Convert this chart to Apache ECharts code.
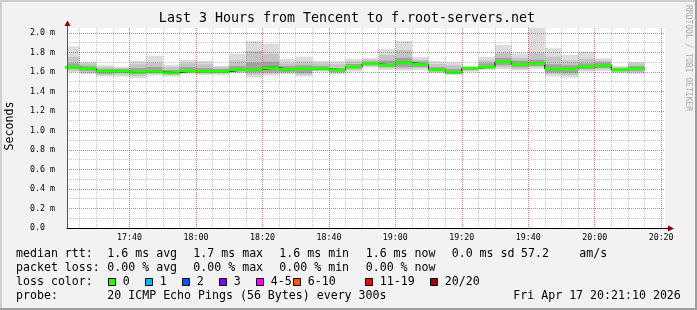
<!DOCTYPE html>
<html><head><meta charset="utf-8">
<script src="https://cdn.jsdelivr.net/npm/echarts@6/dist/echarts.min.js"></script>
<style>html,body{margin:0;padding:0;background:#f2f2f2}#c{width:697px;height:310px}</style>
</head><body><div id="c"></div><script>
// ---- data ----
const viewStart = '17:21:10';
const viewEnd = '20:21:10';
const binStart = ['17:20','17:25','17:30','17:35','17:40','17:45','17:50','17:55',
  '18:00','18:05','18:10','18:15','18:20','18:25','18:30','18:35','18:40','18:45','18:50','18:55',
  '19:00','19:05','19:10','19:15','19:20','19:25','19:30','19:35','19:40','19:45','19:50','19:55',
  '20:00','20:05','20:10'];
// median rtt per 5-minute bin, ms
const medianRtt = [1.648,1.634,1.607,1.607,1.600,1.605,1.592,1.611,1.603,1.603,1.622,1.624,1.641,1.624,1.634,1.632,1.620,1.650,1.683,1.672,1.694,1.677,1.622,1.593,1.638,1.651,1.705,1.677,1.687,1.631,1.631,1.652,1.666,1.622,1.634];
// smoke (sorted ping distribution), ms
const pingMin = [1.600,1.576,1.552,1.552,1.535,1.562,1.552,1.576,1.569,1.569,1.587,1.542,1.562,1.576,1.552,1.603,1.576,1.603,1.644,1.620,1.613,1.620,1.587,1.569,1.603,1.620,1.627,1.614,1.630,1.552,1.542,1.603,1.610,1.587,1.579];
const ping10 = [1.610,1.590,1.565,1.570,1.555,1.575,1.565,1.590,1.580,1.580,1.600,1.570,1.580,1.590,1.570,1.610,1.590,1.620,1.655,1.635,1.630,1.635,1.600,1.575,1.610,1.630,1.645,1.630,1.645,1.575,1.565,1.615,1.625,1.600,1.595];
const ping25 = [1.625,1.610,1.580,1.585,1.575,1.590,1.575,1.600,1.590,1.590,1.605,1.595,1.600,1.600,1.590,1.615,1.600,1.635,1.665,1.650,1.650,1.650,1.605,1.580,1.620,1.640,1.665,1.645,1.660,1.595,1.590,1.630,1.640,1.605,1.610];
const ping40 = [1.640,1.625,1.595,1.600,1.590,1.600,1.585,1.610,1.600,1.600,1.615,1.615,1.630,1.615,1.620,1.625,1.610,1.645,1.675,1.665,1.685,1.670,1.615,1.590,1.630,1.648,1.690,1.670,1.680,1.620,1.620,1.645,1.655,1.615,1.625];
const ping60 = [1.660,1.645,1.615,1.620,1.615,1.620,1.600,1.625,1.615,1.615,1.635,1.640,1.660,1.635,1.645,1.640,1.625,1.665,1.695,1.685,1.710,1.690,1.630,1.605,1.642,1.665,1.715,1.690,1.700,1.645,1.645,1.665,1.675,1.630,1.645];
const ping75 = [1.690,1.660,1.630,1.630,1.640,1.650,1.620,1.650,1.640,1.630,1.660,1.700,1.710,1.660,1.670,1.660,1.645,1.685,1.710,1.720,1.750,1.710,1.655,1.630,1.645,1.690,1.750,1.720,1.730,1.680,1.670,1.690,1.700,1.645,1.665];
const ping90 = [1.760,1.690,1.650,1.645,1.680,1.700,1.650,1.690,1.680,1.650,1.720,1.820,1.790,1.690,1.710,1.690,1.680,1.710,1.730,1.780,1.830,1.730,1.685,1.670,1.650,1.720,1.800,1.750,1.800,1.760,1.720,1.740,1.720,1.655,1.690];
const pingMax = [1.860,1.705,1.668,1.655,1.713,1.766,1.672,1.723,1.713,1.662,1.785,1.918,1.890,1.733,1.757,1.713,1.709,1.733,1.744,1.836,1.918,1.754,1.709,1.699,1.651,1.754,1.877,1.790,2.120,1.843,1.774,1.808,1.740,1.662,1.703];
// axes
const xTickLabels = ['17:40','18:00','18:20','18:40','19:00','19:20','19:40','20:00','20:20'];
const yTickLabels = ['0.0','0.2 m','0.4 m','0.6 m','0.8 m','1.0 m','1.2 m','1.4 m','1.6 m','1.8 m','2.0 m'];
const yMaxValue = 2.05;
// legend
const lossLabels = ['0','1','2','3','4-5','6-10','11-19','20/20'];
const lossColors = ['#26ff00','#00b8ff','#0059ff','#7e00ff','#ff00ff','#ff5500','#ff0000','#a10000'];
const rttLegend = ['1.6 ms avg','1.7 ms max','1.6 ms min','1.6 ms now','0.0 ms sd','57.2','am/s'];
const lossLegend = ['0.00 % avg','0.00 % max','0.00 % min','0.00 % now'];
const probeText = '20 ICMP Echo Pings (56 Bytes) every 300s';
const dateText = 'Fri Apr 17 20:21:10 2026';
const titleText = 'Last 3 Hours from Tencent to f.root-servers.net';

// ---- build ----
function toMin(s){const p=s.split(':').map(Number);return p[0]*60+p[1]+(p[2]||0)/60;}
const STEP = 5;
const xMin = toMin(viewStart), xMax = toMin(viewEnd);
const MONO = '"DejaVu Sans Mono", monospace';
const smokeData = binStart.map((s,i)=>{const t=toMin(s);return [t,t+STEP,pingMin[i],ping10[i],ping25[i],ping40[i],ping60[i],ping75[i],ping90[i],pingMax[i]];});
const riserData = binStart.map((s,i)=>[toMin(s),medianRtt[i]]);
riserData.push([toMin(binStart[binStart.length-1])+STEP, medianRtt[medianRtt.length-1]]);
const greenData = [];
binStart.forEach((s,i)=>{const t=toMin(s);greenData.push([t,medianRtt[i]],[t+STEP,medianRtt[i]],[t+STEP,'-']);});
const bandColors = ['#dcdcdc','#c4c4c4','#a2a2a2','#6c6c6c','#a2a2a2','#c4c4c4','#dcdcdc'];
const minorC = 'rgba(130,130,130,0.45)', majorC = 'rgba(255,0,0,0.38)';

function fmtHM(v){const h=Math.floor(v/60+1e-9), m=Math.round(v-h*60);return String(h).padStart(2,'0')+':'+String(m).padStart(2,'0');}

const graphics = [
  {type:'rect',shape:{x:0,y:0,width:697,height:2},style:{fill:'#cfcfcf'},silent:true},
  {type:'rect',shape:{x:0,y:0,width:2,height:310},style:{fill:'#cfcfcf'},silent:true},
  {type:'rect',shape:{x:0,y:308,width:697,height:2},style:{fill:'#9e9e9e'},silent:true},
  {type:'rect',shape:{x:695,y:0,width:2,height:310},style:{fill:'#9e9e9e'},silent:true},
  {type:'text',x:347,y:19,style:{text:titleText,font:'13.3px '+MONO,fill:'#000',align:'center',verticalAlign:'middle'}},
  {type:'text',x:10,y:126,rotation:Math.PI/2,style:{text:'Seconds',font:'11.6px '+MONO,fill:'#000',align:'center',verticalAlign:'middle'}},
  {type:'text',x:688,y:58,rotation:-Math.PI/2,style:{text:'RRDTOOL / TOBI OETIKER',font:'8px '+MONO,fill:'#aaaaaa',align:'center',verticalAlign:'middle'}},
  {type:'line',shape:{x1:67.5,y1:28,x2:67.5,y2:25},style:{stroke:'#555',lineWidth:1}},
  {type:'polygon',shape:{points:[[64.5,26],[70.5,26],[67.5,20.5]]},style:{fill:'#8b0000'}},
  {type:'line',shape:{x1:665,y1:228.5,x2:669,y2:228.5},style:{stroke:'#000',lineWidth:1}},
  {type:'polygon',shape:{points:[[668,225.5],[668,231.5],[674,228.5]]},style:{fill:'#8b0000'}}
];
const rowY = [254.3,268.3,282.3,296];
const pieceX = [107.3,193.3,279.3,365.7,451.7,521,579.3];
function txt(t,x,y){return {type:'text',x:x,y:y,style:{text:t,font:'11.6px '+MONO,fill:'#000',align:'left',verticalAlign:'middle'}};}
graphics.push(txt('median rtt:',16,rowY[0]));
rttLegend.forEach((t,i)=>graphics.push(txt(t,pieceX[i],rowY[0])));
graphics.push(txt('packet loss:',16,rowY[1]));
lossLegend.forEach((t,i)=>graphics.push(txt(t,pieceX[i],rowY[1])));
graphics.push(txt('loss color:',16,rowY[2]));
const boxX = [108.5,145.5,182.5,219.5,256.5,293.5,365.5,430.5];
lossLabels.forEach((t,i)=>{
  graphics.push({type:'rect',shape:{x:boxX[i],y:278.5,width:7,height:7},style:{fill:lossColors[i],stroke:'#000',lineWidth:1}});
  graphics.push(txt(t,boxX[i]+14.3,rowY[2]));
});
graphics.push(txt('probe:',16,rowY[3]));
graphics.push(txt(probeText,107.3,rowY[3]));
graphics.push(txt(dateText,513.3,rowY[3]));

const chart = echarts.init(document.getElementById('c'), null, {renderer:'canvas'});
chart.setOption({
  animation:false,
  backgroundColor:'#f2f2f2',
  grid:{left:67,top:28,width:598,height:200,show:true,backgroundColor:'#ffffff',borderWidth:0},
  xAxis:[
    {type:'value',min:xMin,max:xMax,minInterval:5,maxInterval:5,z:5,
     axisLine:{show:false},axisTick:{show:false},axisLabel:{show:false},
     splitLine:{show:true,showMinLine:false,showMaxLine:false,lineStyle:{color:minorC,width:1,type:[1,1]}}},
    {type:'value',position:'bottom',min:xMin,max:xMax,minInterval:20,maxInterval:20,z:6,
     axisLine:{show:true,onZero:false,lineStyle:{color:'#000',width:1}},axisTick:{show:false},
     axisLabel:{show:true,margin:6,color:'#000',fontFamily:'DejaVu Sans Mono',fontSize:8.3,showMinLabel:true,showMaxLabel:true,
       formatter:v=>{const s=fmtHM(v);return (Math.abs(v/20-Math.round(v/20))<1e-6 && xTickLabels.indexOf(s)>=0)?s:'';}},
     splitLine:{show:true,showMinLine:false,showMaxLine:false,lineStyle:{color:majorC,width:1,type:[1,1]}}}
  ],
  yAxis:[
    {type:'value',min:0,max:yMaxValue,interval:0.1,z:5,
     axisLine:{show:false},axisTick:{show:false},axisLabel:{show:false},
     splitLine:{show:true,showMinLine:false,showMaxLine:false,lineStyle:{color:minorC,width:1,type:[1,1]}}},
    {type:'value',position:'left',min:0,max:yMaxValue,interval:0.2,z:6,
     axisLine:{show:true,onZero:false,lineStyle:{color:'#555',width:1}},axisTick:{show:false},
     axisLabel:{show:true,margin:37,align:'left',color:'#000',fontFamily:'DejaVu Sans Mono',fontSize:8.3,
       formatter:v=>{const k=v/0.2;const r=Math.round(k);return Math.abs(k-r)<1e-6 && yTickLabels[r]!==undefined ? yTickLabels[r] : '';}},
     splitLine:{show:true,showMinLine:false,showMaxLine:false,lineStyle:{color:majorC,width:1,type:[1,1]}}}
  ],
  series:[
    {type:'custom',xAxisIndex:0,yAxisIndex:0,silent:true,z:1,
     encode:{x:[0,1],y:[2,3,4,5,6,7,8,9]},data:smokeData,
     renderItem:(params,api)=>{
       const tS=api.value(0), tE=api.value(1);
       const lv=[2,3,4,5,6,7,8,9].map(k=>api.value(k));
       const cs=params.coordSys; const children=[];
       for(let b=0;b<7;b++){
         const a=api.coord([tS,lv[b+1]]), c=api.coord([tE,lv[b]]);
         const r=echarts.graphic.clipRectByRect({x:a[0],y:a[1],width:c[0]-a[0],height:c[1]-a[1]},{x:cs.x,y:cs.y,width:cs.width,height:cs.height});
         if(r) children.push({type:'rect',shape:r,style:{fill:bandColors[b]}});
       }
       return {type:'group',children:children};
     }},
    {type:'line',xAxisIndex:0,yAxisIndex:0,step:'end',data:riserData,symbol:'none',silent:true,z:2,
     lineStyle:{color:'#000',width:1}},
    {type:'line',xAxisIndex:0,yAxisIndex:0,data:greenData,symbol:'none',silent:true,connectNulls:false,z:3,
     lineStyle:{color:lossColors[0],width:3,cap:'butt'}}
  ],
  graphic:graphics
});
</script></body></html>
